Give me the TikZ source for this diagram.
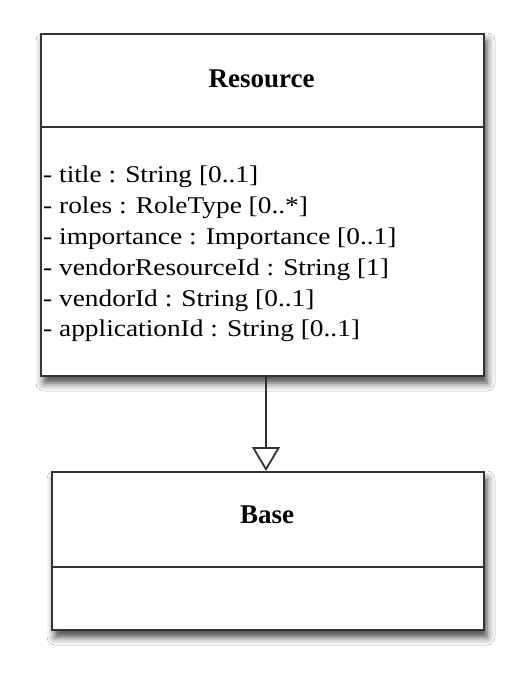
\documentclass[tikz,border=0pt]{standalone}
\usepackage{fontspec}
\setmainfont{Liberation Serif}
\newfontfamily\attrfont[FakeStretch=1.14]{Liberation Serif}
\usetikzlibrary{arrows.meta,shadows.blur}
\begin{document}
\begin{tikzpicture}[x=1pt,y=-1pt,
  umlbox/.style={draw=black!80, line width=2pt, fill=white, rectangle, inner sep=0pt, anchor=north west,
    blur shadow={shadow xshift=3pt, shadow yshift=-7pt, shadow blur radius=8pt, shadow opacity=75}},
  divider/.style={draw=black!80, line width=1.6pt},
  classname/.style={font=\fontsize{27}{30}\selectfont\bfseries, inner sep=0pt},
  attrs/.style={font=\attrfont\fontsize{24}{30.8}\selectfont, align=left, anchor=north west, inner sep=0pt},
  generalization/.style={draw=black!80, line width=1.8pt, -{Triangle[open, length=24pt, width=28pt, line width=1.8pt]}}
]
\useasboundingbox[fill=white] (0,0) rectangle (521,676);
% Resource class
\node[umlbox, minimum width=443pt, minimum height=342pt] (res) at (40,33) {};
\draw[divider] (40,127) coordinate (resdl) -- (483,127) coordinate (resdr);
\node[classname] (resname) at (261.5,79) {Resource};
\node[attrs] (resattrs) at (43,166) {- title : String [0..1]\\
- roles : RoleType [0..*]\\
- importance : Importance [0..1]\\
- vendorResourceId : String [1]\\
- vendorId : String [0..1]\\
- applicationId : String [0..1]};
% Base class
\node[umlbox, minimum width=432pt, minimum height=158pt] (base) at (51,471) {};
\draw[divider] (51,567) coordinate (basedl) -- (483,567) coordinate (basedr);
\node[classname] (basename) at (267,515) {Base};
% generalization
\draw[generalization] ([xshift=3.5pt]res.south) -- ([xshift=-2pt]base.north);
\end{tikzpicture}
\end{document}
